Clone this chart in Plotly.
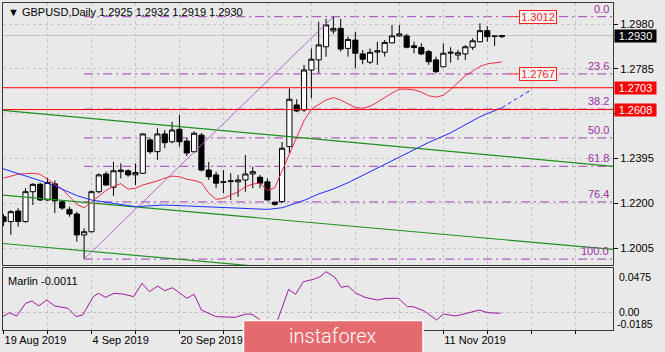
import plotly.graph_objects as go

# ---------------- data ----------------
opens  = [1.2142,1.2121,1.2167,1.2121,1.2251,1.2283,1.2215,1.2285,1.2207,1.2174,
          1.2154,1.2063,1.2077,1.2251,1.2328,1.2270,1.2338,1.2342,1.2324,1.2331,
          1.2476,1.2425,1.2502,1.2468,1.2522,1.2471,1.2425,1.2497,1.2345,1.2324,
          1.2294,1.2295,1.2294,1.2302,1.2328,1.2314,1.2294,1.2205,1.2208,1.2447,
          1.2628,1.2606,1.2780,1.2824,1.2881,1.2950,1.2961,1.2874,1.2910,1.2850,
          1.2814,1.2858,1.2857,1.2898,1.2928,1.2928,1.2885,1.2878,1.2860,1.2824,
          1.2794,1.2853,1.2845,1.2850,1.2879,1.2903,1.2951,1.2928,1.2925]
highs  = [1.2154,1.2171,1.2179,1.2266,1.2288,1.2290,1.2311,1.2300,1.2215,1.2186,
          1.2164,1.2092,1.2255,1.2331,1.2338,1.2381,1.2374,1.2348,1.2374,1.2505,
          1.2483,1.2527,1.2519,1.2555,1.2585,1.2484,1.2513,1.2506,1.2381,1.2338,
          1.2345,1.2331,1.2324,1.2410,1.2360,1.2324,1.2309,1.2207,1.2467,1.2700,
          1.2653,1.2802,1.2874,1.2990,1.3002,1.3012,1.3002,1.2925,1.2946,1.2867,
          1.2874,1.2903,1.2910,1.2976,1.2976,1.2937,1.2903,1.2896,1.2867,1.2838,
          1.2896,1.2879,1.2867,1.2889,1.2918,1.2983,1.2971,1.2930,1.2932]
lows   = [1.2102,1.2063,1.2099,1.2116,1.2193,1.2210,1.2212,1.2158,1.2172,1.2142,
          1.2034,1.1958,1.2074,1.2244,1.2277,1.2233,1.2309,1.2316,1.2280,1.2328,
          1.2416,1.2389,1.2440,1.2461,1.2447,1.2406,1.2420,1.2339,1.2302,1.2266,
          1.2244,1.2215,1.2229,1.2251,1.2266,1.2266,1.2213,1.2190,1.2202,1.2420,
          1.2597,1.2598,1.2657,1.2766,1.2838,1.2937,1.2860,1.2838,1.2787,1.2805,
          1.2806,1.2802,1.2838,1.2896,1.2925,1.2874,1.2853,1.2845,1.2802,1.2766,
          1.2792,1.2812,1.2823,1.2824,1.2867,1.2900,1.2903,1.2885,1.2919]
closes = [1.2121,1.2164,1.2121,1.2251,1.2283,1.2215,1.2291,1.2211,1.2180,1.2154,
          1.2063,1.2077,1.2251,1.2324,1.2280,1.2342,1.2345,1.2324,1.2334,1.2502,
          1.2425,1.2502,1.2464,1.2519,1.2468,1.2419,1.2505,1.2345,1.2316,1.2288,
          1.2292,1.2298,1.2302,1.2328,1.2338,1.2288,1.2215,1.2196,1.2440,1.2653,
          1.2602,1.2780,1.2827,1.2889,1.2976,1.2961,1.2871,1.2913,1.2853,1.2827,
          1.2857,1.2863,1.2900,1.2928,1.2937,1.2879,1.2878,1.2850,1.2816,1.2773,
          1.2853,1.2857,1.2855,1.2881,1.2907,1.2951,1.2925,1.2926,1.2930]
bars = list(range(len(opens)))

red_ma = [1.2310,1.2320,1.2327,1.2330,1.2331,1.2327,1.2305,1.2283,1.2262,1.2230,
          1.2196,1.2181,1.2205,1.2230,1.2256,1.2274,1.2286,1.2262,1.2266,1.2280,
          1.2288,1.2298,1.2310,1.2319,1.2316,1.2305,1.2300,1.2290,1.2245,1.2218,
          1.2222,1.2236,1.2250,1.2273,1.2284,1.2288,1.2256,1.2268,1.2340,1.2410,
          1.2480,1.2560,1.2610,1.2630,1.2650,1.2660,1.2650,1.2633,1.2617,1.2614,
          1.2622,1.2640,1.2660,1.2680,1.2696,1.2697,1.2694,1.2684,1.2668,1.2662,
          1.2670,1.2695,1.2725,1.2755,1.2775,1.2795,1.2807,1.2812,1.2815]

blue_x = [-0.5,1,3,5,7,9,10,12,13,15,18,20,22,25,27,29,31,34,36,38,39,41,43,45,47,50,53,55,58,61,65,68]
blue_y = [1.2355,1.2340,1.2317,1.2299,1.2276,1.2248,1.2234,1.2215,1.2209,1.2200,1.2186,1.2189,
          1.2193,1.2189,1.2186,1.2183,1.2179,1.2174,1.2174,1.2181,1.2192,1.2213,1.2241,1.2263,
          1.2290,1.2338,1.2386,1.2418,1.2465,1.2507,1.2577,1.2616]
blue_proj_x = [68, 72.1]
blue_proj_y = [1.2616, 1.2696]

green_x = [-0.5, 83.2]
green_a = [1.2606, 1.2361]
green_b = [1.2237, 1.2000]
green_c = [1.2027, 1.1788]

fib_low_bar, fib_low = 11, 1.1958
fib_high_bar, fib_high = 45, 1.3012
fib_levels = [0.0, 23.6, 38.2, 50.0, 61.8, 76.4, 100.0]

red_levels = [1.2703, 1.2608]
bid_price = 1.2930
price_ticks = [1.2005, 1.2200, 1.2395, 1.2590, 1.2785, 1.2980]
price_tick_text = ["1.2005", "1.2200", "1.2395", "", "1.2785", "1.2980"]

marlin_x = [-0.5,0.8,1.8,3.0,3.9,4.8,5.9,7.0,8.8,9.9,10.8,12.25,12.95,13.9,15.1,16.3,17.75,18.9,
            19.9,21.05,22.0,23.0,23.8,25.0,26.0,27.0,29.0,31.6,33.1,33.9,34.9,36.1,36.9,37.4,
            38.9,39.85,40.9,42.3,43.2,44.0,45.2,46.1,47.0,48.1,49.3,51.0,52.2,53.9,55.1,55.9,
            57.4,59.1,60.0,61.7,63.2,64.9,66.05,67.8]
marlin_y = [-0.0060,-0.0001,-0.0036,0.0099,0.0124,0.0071,0.0134,0.0071,0.0046,-0.0043,-0.0025,
            0.0170,0.0206,0.0163,0.0206,0.0198,0.0170,0.0312,0.0223,0.0283,0.0233,0.0265,0.0223,
            0.0152,0.0195,0.0028,-0.0043,-0.0050,-0.0015,-0.0018,-0.0071,-0.0164,-0.0164,-0.0079,
            0.0248,0.0195,0.0329,0.0355,0.0382,0.0436,0.0376,0.0270,0.0283,0.0206,0.0163,0.0134,
            0.0152,0.0152,0.0063,0.0063,0.0017,-0.0079,-0.0015,-0.0036,-0.0007,0.0028,-0.0001,-0.0007]

grid_bars = list(range(0, 84, 6))
date_labels = {0: "19 Aug 2019", 12: "4 Sep 2019", 24: "20 Sep 2019", 60: "11 Nov 2019"}

# ---------------- layout helpers ----------------
W, H = 665, 352
L, R, T, B = 3, 613, 3, 330
def px(xp): return (xp - L) / (R - L)
def py(yp): return (B - yp) / (B - T)

FONT = "Liberation Sans"
BG = "#e9e9e9"
FIBC = "#b062c0"
FIBT = "#9b30a8"

fig = go.Figure()

fig.add_trace(go.Candlestick(
    x=bars, open=opens, high=highs, low=lows, close=closes,
    increasing=dict(fillcolor="white", line=dict(color="black", width=1)),
    decreasing=dict(fillcolor="black", line=dict(color="black", width=1)),
    whiskerwidth=0, xaxis="x", yaxis="y", hoverinfo="skip", showlegend=False))

for gy in (green_a, green_b, green_c):
    fig.add_trace(go.Scatter(x=green_x, y=gy, mode="lines", line=dict(color="#1f8f1f", width=1.2),
                             xaxis="x", yaxis="y", showlegend=False, hoverinfo="skip"))

fig.add_trace(go.Scatter(x=bars, y=red_ma, mode="lines", line=dict(color="#ee2c44", width=1),
                         xaxis="x", yaxis="y", showlegend=False, hoverinfo="skip"))
fig.add_trace(go.Scatter(x=blue_x, y=blue_y, mode="lines", line=dict(color="#1a2cff", width=1),
                         xaxis="x", yaxis="y", showlegend=False, hoverinfo="skip"))
fig.add_trace(go.Scatter(x=blue_proj_x, y=blue_proj_y, mode="lines",
                         line=dict(color="#1a2cff", width=1, dash="4px,3px"),
                         xaxis="x", yaxis="y", showlegend=False, hoverinfo="skip"))
# fib diagonal
fig.add_trace(go.Scatter(x=[fib_low_bar, fib_high_bar], y=[fib_low, fib_high], mode="lines",
                         line=dict(color="#b466c8", width=1), xaxis="x", yaxis="y",
                         showlegend=False, hoverinfo="skip"))

fig.add_trace(go.Scatter(x=marlin_x, y=marlin_y, mode="lines", line=dict(color="#a0189f", width=1),
                         xaxis="x2", yaxis="y2", showlegend=False, hoverinfo="skip"))

shapes = []
annotations = []
xmax = 83.15
# fib levels
for lv in fib_levels:
    price = fib_high - (fib_high - fib_low) * lv / 100.0
    shapes.append(dict(type="line", xref="x", yref="y", x0=fib_low_bar, x1=xmax, y0=price, y1=price,
                       line=dict(color=FIBC, width=1.3, dash="9px,4px,2px,4px"), layer="below"))
    annotations.append(dict(xref="paper", yref="y", x=px(611), y=price, xanchor="right", yanchor="bottom",
                            yshift=0, text=f"{lv:.1f}", showarrow=False,
                            font=dict(family=FONT, size=11, color=FIBT)))
# bid line
shapes.append(dict(type="line", xref="paper", yref="y", x0=0, x1=1, y0=bid_price, y1=bid_price,
                   line=dict(color="#c4c4c4", width=1), layer="below"))
# red horizontal lines
for lvl in red_levels:
    shapes.append(dict(type="line", xref="paper", yref="y", x0=0, x1=1, y0=lvl, y1=lvl,
                       line=dict(color="#ff0000", width=1)))

# fib price boxes (0 and 23.6)
for lv in (0.0, 23.6):
    price = fib_high - (fib_high - fib_low) * lv / 100.0
    shapes.append(dict(type="line", xref="paper", yref="y", x0=px(509), x1=px(520), y0=price, y1=price,
                       line=dict(color="#ff3030", width=1)))
    annotations.append(dict(xref="paper", yref="y", x=px(519), y=price, xanchor="left", yanchor="middle",
                            text=f"{price + (0.0004 if lv else 0):.4f}", showarrow=False,
                            bgcolor="rgba(250,250,250,0.85)", bordercolor="#ff2020", borderwidth=1, borderpad=0,
                            width=36, height=12, font=dict(family=FONT, size=11, color="#ff2020")))

# right axis price boxes
for val, col in ((bid_price, "#000000"), (red_levels[0], "#ff0000"), (red_levels[1], "#ff0000")):
    annotations.append(dict(xref="paper", yref="y", x=px(614), y=val, xanchor="left", yanchor="middle",
                            text=f"{val:.4f}", showarrow=False, bgcolor=col, borderpad=0,
                            width=41, height=12, font=dict(family=FONT, size=11, color="white")))

# title
annotations.append(dict(xref="paper", yref="paper", x=px(6), y=py(12), xanchor="left", yanchor="middle",
                        text="▼ GBPUSD,Daily 1.2925 1.2932 1.2919 1.2930", showarrow=False,
                        font=dict(family=FONT, size=11, color="black")))
annotations.append(dict(xref="paper", yref="paper", x=px(6), y=py(281), xanchor="left", yanchor="middle",
                        text="Marlin -0.0011", showarrow=False,
                        font=dict(family=FONT, size=11, color="black")))
for txt, ypix, xpix in (("0.0475", 277, 617), ("0.00", 311.5, 617), ("-0.0185", 324, 615)):
    annotations.append(dict(xref="paper", yref="paper", x=px(xpix), y=py(ypix), xanchor="left",
                            yanchor="middle", text=txt, showarrow=False,
                            font=dict(family=FONT, size=10.5, color="black")))

# logo
shapes.append(dict(type="rect", xref="paper", yref="paper", x0=px(243.5), x1=px(423), y0=py(320.5), y1=py(353),
                   fillcolor="#e46a6d", line=dict(color="white", width=1.5), layer="above"))
annotations.append(dict(xref="paper", yref="paper", x=px(333), y=py(336), xanchor="center", yanchor="middle",
                        text="instaforex", showarrow=False,
                        font=dict(family="Roboto", size=20, color="white", weight=300)))

tickvals = grid_bars
ticktext = [date_labels.get(b, "") for b in grid_bars]

axis_line = "#3a3a3a"
grid_col = "#c6c6c6"

fig.update_layout(
    width=W, height=H, margin=dict(l=L, r=W - R, t=T, b=H - B),
    paper_bgcolor=BG, plot_bgcolor=BG, showlegend=False,
    boxgap=0.3, boxgroupgap=0,
    font=dict(family=FONT, size=11, color="black"),
    xaxis=dict(domain=[0, 1], range=[-0.07, xmax], anchor="y", tickvals=tickvals, showticklabels=False,
               ticks="", showgrid=True, gridcolor=grid_col, griddash="3px,3px", gridwidth=1,
               showline=True, mirror=True, linecolor=axis_line, linewidth=1, zeroline=False,
               rangeslider=dict(visible=False)),
    yaxis=dict(domain=[py(265), 1], range=[1.19323, 1.30713], side="right", anchor="x",
               tickvals=price_ticks, ticktext=price_tick_text, ticks="outside", ticklen=4, tickcolor="black",
               showgrid=True, gridcolor=grid_col, griddash="3px,3px", showline=True, mirror=True,
               linecolor=axis_line, linewidth=1, zeroline=False),
    xaxis2=dict(domain=[0, 1], range=[-0.07, xmax], anchor="y2", matches="x", tickvals=tickvals,
                ticktext=ticktext, ticks="outside", ticklen=3, tickcolor="black",
                ticklabelposition="outside right", showgrid=True, gridcolor=grid_col, griddash="3px,3px",
                showline=True, mirror=True, linecolor=axis_line, linewidth=1, zeroline=False,
                tickfont=dict(family=FONT, size=11, color="black")),
    yaxis2=dict(domain=[0, py(268)], range=[-0.0185, 0.0475], side="right", anchor="x2",
                tickvals=[0], showticklabels=False, ticks="", showgrid=True, gridcolor="#bdbdbd",
                griddash="3px,3px", showline=True, mirror=True, linecolor=axis_line, linewidth=1,
                zeroline=False),
    shapes=shapes, annotations=annotations,
)

fig.write_html("out.html")
